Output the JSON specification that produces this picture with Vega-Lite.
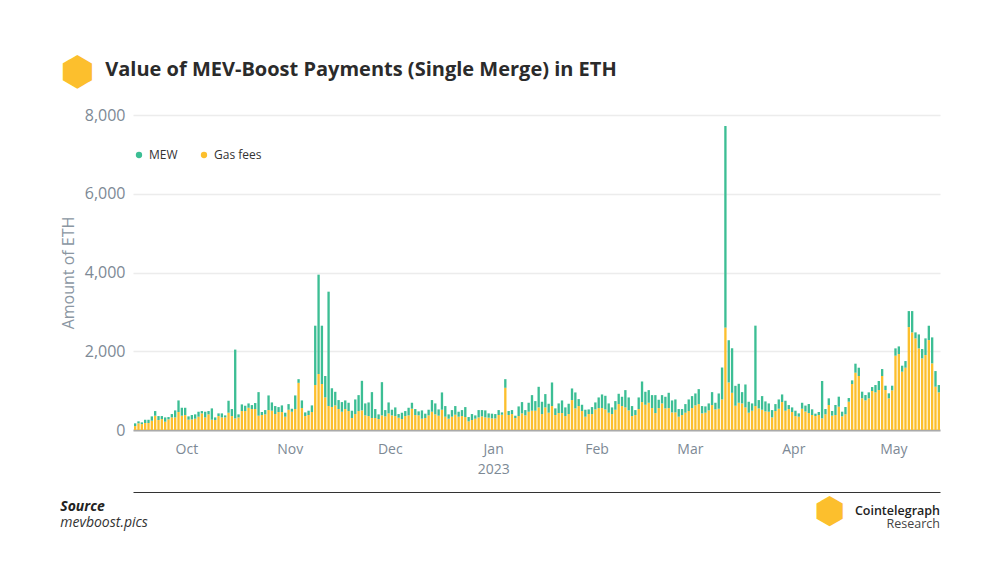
{
  "$schema": "https://vega.github.io/schema/vega-lite/v6.json",
  "padding": {"left": 60, "top": 53, "right": 60, "bottom": 40},
  "background": "white",
  "config": {
    "font": "Open Sans",
    "view": {"stroke": null},
    "concat": {"spacing": 0}
  },
  "title": {
    "text": "⬢",
    "anchor": "start",
    "frame": "bounds",
    "fontSize": 40,
    "fontWeight": "normal",
    "color": "#fcbf2d",
    "offset": -33
  },
  "vconcat": [
    {
      "title": {
        "text": "Value of MEV-Boost Payments (Single Merge) in ETH",
        "anchor": "start",
        "frame": "bounds",
        "dx": 45,
        "fontSize": 20,
        "fontWeight": "bold",
        "color": "#2b2b2b",
        "offset": 27
      },
      "vconcat": [
        {
          "title": {
            "text": "⬢",
            "orient": "bottom",
            "anchor": "end",
            "dx": -95,
            "fontSize": 36,
            "fontWeight": "normal",
            "color": "#fcbf2d",
            "offset": -35
          },
          "vconcat": [
            {
              "title": {
                "text": "Cointelegraph",
                "subtitle": "Research",
                "orient": "bottom",
                "anchor": "end",
                "fontSize": 12.5,
                "fontWeight": 600,
                "color": "#222222",
                "subtitleFontSize": 12.5,
                "subtitleColor": "#444444",
                "subtitlePadding": 0,
                "offset": -25
              },
              "vconcat": [
                {
                  "title": {
                    "text": "Source",
                    "subtitle": "mevboost.pics",
                    "orient": "bottom",
                    "anchor": "start",
                    "frame": "bounds",
                    "fontSize": 14,
                    "fontWeight": "bold",
                    "fontStyle": "italic",
                    "color": "#222222",
                    "subtitleFontSize": 14,
                    "subtitleFontStyle": "italic",
                    "subtitleColor": "#333333",
                    "subtitlePadding": 2,
                    "offset": 8
                  },
                  "width": 807,
                  "height": 315,
                  "data": {
                    "values": [
                      {"d": "2022-09-15", "Gas fees": 100, "MEW": 69},
                      {"d": "2022-09-16", "Gas fees": 170, "MEW": 50},
                      {"d": "2022-09-17", "Gas fees": 150, "MEW": 44},
                      {"d": "2022-09-18", "Gas fees": 177, "MEW": 83},
                      {"d": "2022-09-19", "Gas fees": 177, "MEW": 83},
                      {"d": "2022-09-20", "Gas fees": 236, "MEW": 110},
                      {"d": "2022-09-21", "Gas fees": 363, "MEW": 118},
                      {"d": "2022-09-22", "Gas fees": 253, "MEW": 101},
                      {"d": "2022-09-23", "Gas fees": 278, "MEW": 76},
                      {"d": "2022-09-24", "Gas fees": 211, "MEW": 109},
                      {"d": "2022-09-25", "Gas fees": 270, "MEW": 59},
                      {"d": "2022-09-26", "Gas fees": 320, "MEW": 85},
                      {"d": "2022-09-27", "Gas fees": 320, "MEW": 178},
                      {"d": "2022-09-28", "Gas fees": 456, "MEW": 295},
                      {"d": "2022-09-29", "Gas fees": 363, "MEW": 202},
                      {"d": "2022-09-30", "Gas fees": 380, "MEW": 185},
                      {"d": "2022-10-01", "Gas fees": 262, "MEW": 84},
                      {"d": "2022-10-02", "Gas fees": 270, "MEW": 110},
                      {"d": "2022-10-03", "Gas fees": 287, "MEW": 110},
                      {"d": "2022-10-04", "Gas fees": 338, "MEW": 126},
                      {"d": "2022-10-05", "Gas fees": 422, "MEW": 59},
                      {"d": "2022-10-06", "Gas fees": 320, "MEW": 144},
                      {"d": "2022-10-07", "Gas fees": 397, "MEW": 84},
                      {"d": "2022-10-08", "Gas fees": 262, "MEW": 287},
                      {"d": "2022-10-09", "Gas fees": 253, "MEW": 67},
                      {"d": "2022-10-10", "Gas fees": 354, "MEW": 68},
                      {"d": "2022-10-11", "Gas fees": 320, "MEW": 102},
                      {"d": "2022-10-12", "Gas fees": 320, "MEW": 51},
                      {"d": "2022-10-13", "Gas fees": 439, "MEW": 304},
                      {"d": "2022-10-14", "Gas fees": 354, "MEW": 178},
                      {"d": "2022-10-15", "Gas fees": 295, "MEW": 1747},
                      {"d": "2022-10-16", "Gas fees": 320, "MEW": 77},
                      {"d": "2022-10-17", "Gas fees": 481, "MEW": 169},
                      {"d": "2022-10-18", "Gas fees": 481, "MEW": 135},
                      {"d": "2022-10-19", "Gas fees": 565, "MEW": 110},
                      {"d": "2022-10-20", "Gas fees": 532, "MEW": 101},
                      {"d": "2022-10-21", "Gas fees": 532, "MEW": 152},
                      {"d": "2022-10-22", "Gas fees": 363, "MEW": 599},
                      {"d": "2022-10-23", "Gas fees": 380, "MEW": 76},
                      {"d": "2022-10-24", "Gas fees": 397, "MEW": 109},
                      {"d": "2022-10-25", "Gas fees": 506, "MEW": 372},
                      {"d": "2022-10-26", "Gas fees": 490, "MEW": 210},
                      {"d": "2022-10-27", "Gas fees": 405, "MEW": 203},
                      {"d": "2022-10-28", "Gas fees": 456, "MEW": 126},
                      {"d": "2022-10-29", "Gas fees": 456, "MEW": 169},
                      {"d": "2022-10-30", "Gas fees": 338, "MEW": 101},
                      {"d": "2022-10-31", "Gas fees": 515, "MEW": 143},
                      {"d": "2022-11-01", "Gas fees": 464, "MEW": 76},
                      {"d": "2022-11-02", "Gas fees": 532, "MEW": 346},
                      {"d": "2022-11-03", "Gas fees": 1198, "MEW": 93},
                      {"d": "2022-11-04", "Gas fees": 557, "MEW": 194},
                      {"d": "2022-11-05", "Gas fees": 354, "MEW": 93},
                      {"d": "2022-11-06", "Gas fees": 380, "MEW": 110},
                      {"d": "2022-11-07", "Gas fees": 456, "MEW": 169},
                      {"d": "2022-11-08", "Gas fees": 1143, "MEW": 1506},
                      {"d": "2022-11-09", "Gas fees": 1422, "MEW": 2523},
                      {"d": "2022-11-10", "Gas fees": 1168, "MEW": 1481},
                      {"d": "2022-11-11", "Gas fees": 830, "MEW": 541},
                      {"d": "2022-11-12", "Gas fees": 610, "MEW": 2903},
                      {"d": "2022-11-13", "Gas fees": 585, "MEW": 475},
                      {"d": "2022-11-14", "Gas fees": 625, "MEW": 345},
                      {"d": "2022-11-15", "Gas fees": 533, "MEW": 227},
                      {"d": "2022-11-16", "Gas fees": 464, "MEW": 245},
                      {"d": "2022-11-17", "Gas fees": 532, "MEW": 219},
                      {"d": "2022-11-18", "Gas fees": 481, "MEW": 211},
                      {"d": "2022-11-19", "Gas fees": 304, "MEW": 186},
                      {"d": "2022-11-20", "Gas fees": 405, "MEW": 371},
                      {"d": "2022-11-21", "Gas fees": 481, "MEW": 405},
                      {"d": "2022-11-22", "Gas fees": 498, "MEW": 751},
                      {"d": "2022-11-23", "Gas fees": 371, "MEW": 304},
                      {"d": "2022-11-24", "Gas fees": 354, "MEW": 346},
                      {"d": "2022-11-25", "Gas fees": 304, "MEW": 658},
                      {"d": "2022-11-26", "Gas fees": 304, "MEW": 228},
                      {"d": "2022-11-27", "Gas fees": 278, "MEW": 119},
                      {"d": "2022-11-28", "Gas fees": 371, "MEW": 844},
                      {"d": "2022-11-29", "Gas fees": 346, "MEW": 160},
                      {"d": "2022-11-30", "Gas fees": 422, "MEW": 278},
                      {"d": "2022-12-01", "Gas fees": 371, "MEW": 144},
                      {"d": "2022-12-02", "Gas fees": 354, "MEW": 220},
                      {"d": "2022-12-03", "Gas fees": 312, "MEW": 93},
                      {"d": "2022-12-04", "Gas fees": 278, "MEW": 161},
                      {"d": "2022-12-05", "Gas fees": 354, "MEW": 127},
                      {"d": "2022-12-06", "Gas fees": 371, "MEW": 194},
                      {"d": "2022-12-07", "Gas fees": 540, "MEW": 152},
                      {"d": "2022-12-08", "Gas fees": 380, "MEW": 152},
                      {"d": "2022-12-09", "Gas fees": 371, "MEW": 102},
                      {"d": "2022-12-10", "Gas fees": 287, "MEW": 211},
                      {"d": "2022-12-11", "Gas fees": 304, "MEW": 110},
                      {"d": "2022-12-12", "Gas fees": 371, "MEW": 144},
                      {"d": "2022-12-13", "Gas fees": 464, "MEW": 296},
                      {"d": "2022-12-14", "Gas fees": 397, "MEW": 278},
                      {"d": "2022-12-15", "Gas fees": 363, "MEW": 160},
                      {"d": "2022-12-16", "Gas fees": 515, "MEW": 439},
                      {"d": "2022-12-17", "Gas fees": 338, "MEW": 270},
                      {"d": "2022-12-18", "Gas fees": 287, "MEW": 110},
                      {"d": "2022-12-19", "Gas fees": 338, "MEW": 168},
                      {"d": "2022-12-20", "Gas fees": 388, "MEW": 220},
                      {"d": "2022-12-21", "Gas fees": 338, "MEW": 126},
                      {"d": "2022-12-22", "Gas fees": 354, "MEW": 152},
                      {"d": "2022-12-23", "Gas fees": 329, "MEW": 253},
                      {"d": "2022-12-24", "Gas fees": 219, "MEW": 110},
                      {"d": "2022-12-25", "Gas fees": 253, "MEW": 152},
                      {"d": "2022-12-26", "Gas fees": 287, "MEW": 84},
                      {"d": "2022-12-27", "Gas fees": 320, "MEW": 186},
                      {"d": "2022-12-28", "Gas fees": 346, "MEW": 160},
                      {"d": "2022-12-29", "Gas fees": 320, "MEW": 178},
                      {"d": "2022-12-30", "Gas fees": 312, "MEW": 110},
                      {"d": "2022-12-31", "Gas fees": 295, "MEW": 119},
                      {"d": "2023-01-01", "Gas fees": 295, "MEW": 110},
                      {"d": "2023-01-02", "Gas fees": 380, "MEW": 126},
                      {"d": "2023-01-03", "Gas fees": 388, "MEW": 59},
                      {"d": "2023-01-04", "Gas fees": 1072, "MEW": 219},
                      {"d": "2023-01-05", "Gas fees": 380, "MEW": 101},
                      {"d": "2023-01-06", "Gas fees": 405, "MEW": 101},
                      {"d": "2023-01-07", "Gas fees": 304, "MEW": 59},
                      {"d": "2023-01-08", "Gas fees": 354, "MEW": 245},
                      {"d": "2023-01-09", "Gas fees": 422, "MEW": 287},
                      {"d": "2023-01-10", "Gas fees": 371, "MEW": 135},
                      {"d": "2023-01-11", "Gas fees": 464, "MEW": 228},
                      {"d": "2023-01-12", "Gas fees": 490, "MEW": 396},
                      {"d": "2023-01-13", "Gas fees": 490, "MEW": 244},
                      {"d": "2023-01-14", "Gas fees": 574, "MEW": 523},
                      {"d": "2023-01-15", "Gas fees": 405, "MEW": 312},
                      {"d": "2023-01-16", "Gas fees": 574, "MEW": 338},
                      {"d": "2023-01-17", "Gas fees": 439, "MEW": 228},
                      {"d": "2023-01-18", "Gas fees": 608, "MEW": 599},
                      {"d": "2023-01-19", "Gas fees": 380, "MEW": 169},
                      {"d": "2023-01-20", "Gas fees": 430, "MEW": 245},
                      {"d": "2023-01-21", "Gas fees": 430, "MEW": 321},
                      {"d": "2023-01-22", "Gas fees": 354, "MEW": 220},
                      {"d": "2023-01-23", "Gas fees": 405, "MEW": 262},
                      {"d": "2023-01-24", "Gas fees": 760, "MEW": 295},
                      {"d": "2023-01-25", "Gas fees": 549, "MEW": 405},
                      {"d": "2023-01-26", "Gas fees": 608, "MEW": 177},
                      {"d": "2023-01-27", "Gas fees": 481, "MEW": 160},
                      {"d": "2023-01-28", "Gas fees": 338, "MEW": 177},
                      {"d": "2023-01-29", "Gas fees": 405, "MEW": 118},
                      {"d": "2023-01-30", "Gas fees": 405, "MEW": 177},
                      {"d": "2023-01-31", "Gas fees": 523, "MEW": 177},
                      {"d": "2023-02-01", "Gas fees": 557, "MEW": 270},
                      {"d": "2023-02-02", "Gas fees": 557, "MEW": 346},
                      {"d": "2023-02-03", "Gas fees": 523, "MEW": 346},
                      {"d": "2023-02-04", "Gas fees": 439, "MEW": 236},
                      {"d": "2023-02-05", "Gas fees": 405, "MEW": 169},
                      {"d": "2023-02-06", "Gas fees": 515, "MEW": 219},
                      {"d": "2023-02-07", "Gas fees": 658, "MEW": 262},
                      {"d": "2023-02-08", "Gas fees": 608, "MEW": 236},
                      {"d": "2023-02-09", "Gas fees": 574, "MEW": 439},
                      {"d": "2023-02-10", "Gas fees": 498, "MEW": 329},
                      {"d": "2023-02-11", "Gas fees": 354, "MEW": 254},
                      {"d": "2023-02-12", "Gas fees": 380, "MEW": 126},
                      {"d": "2023-02-13", "Gas fees": 532, "MEW": 295},
                      {"d": "2023-02-14", "Gas fees": 709, "MEW": 523},
                      {"d": "2023-02-15", "Gas fees": 641, "MEW": 330},
                      {"d": "2023-02-16", "Gas fees": 692, "MEW": 321},
                      {"d": "2023-02-17", "Gas fees": 557, "MEW": 329},
                      {"d": "2023-02-18", "Gas fees": 430, "MEW": 456},
                      {"d": "2023-02-19", "Gas fees": 557, "MEW": 211},
                      {"d": "2023-02-20", "Gas fees": 675, "MEW": 211},
                      {"d": "2023-02-21", "Gas fees": 549, "MEW": 295},
                      {"d": "2023-02-22", "Gas fees": 557, "MEW": 388},
                      {"d": "2023-02-23", "Gas fees": 447, "MEW": 304},
                      {"d": "2023-02-24", "Gas fees": 447, "MEW": 329},
                      {"d": "2023-02-25", "Gas fees": 338, "MEW": 194},
                      {"d": "2023-02-26", "Gas fees": 380, "MEW": 152},
                      {"d": "2023-02-27", "Gas fees": 439, "MEW": 219},
                      {"d": "2023-02-28", "Gas fees": 481, "MEW": 295},
                      {"d": "2023-03-01", "Gas fees": 557, "MEW": 304},
                      {"d": "2023-03-02", "Gas fees": 625, "MEW": 303},
                      {"d": "2023-03-03", "Gas fees": 658, "MEW": 380},
                      {"d": "2023-03-04", "Gas fees": 422, "MEW": 186},
                      {"d": "2023-03-05", "Gas fees": 439, "MEW": 160},
                      {"d": "2023-03-06", "Gas fees": 498, "MEW": 177},
                      {"d": "2023-03-07", "Gas fees": 633, "MEW": 329},
                      {"d": "2023-03-08", "Gas fees": 523, "MEW": 169},
                      {"d": "2023-03-09", "Gas fees": 540, "MEW": 388},
                      {"d": "2023-03-10", "Gas fees": 776, "MEW": 811},
                      {"d": "2023-03-11", "Gas fees": 2600, "MEW": 5120},
                      {"d": "2023-03-12", "Gas fees": 1207, "MEW": 1073},
                      {"d": "2023-03-13", "Gas fees": 945, "MEW": 1131},
                      {"d": "2023-03-14", "Gas fees": 616, "MEW": 506},
                      {"d": "2023-03-15", "Gas fees": 692, "MEW": 481},
                      {"d": "2023-03-16", "Gas fees": 675, "MEW": 287},
                      {"d": "2023-03-17", "Gas fees": 574, "MEW": 582},
                      {"d": "2023-03-18", "Gas fees": 439, "MEW": 278},
                      {"d": "2023-03-19", "Gas fees": 490, "MEW": 185},
                      {"d": "2023-03-20", "Gas fees": 608, "MEW": 2042},
                      {"d": "2023-03-21", "Gas fees": 549, "MEW": 211},
                      {"d": "2023-03-22", "Gas fees": 515, "MEW": 346},
                      {"d": "2023-03-23", "Gas fees": 473, "MEW": 253},
                      {"d": "2023-03-24", "Gas fees": 464, "MEW": 211},
                      {"d": "2023-03-25", "Gas fees": 320, "MEW": 186},
                      {"d": "2023-03-26", "Gas fees": 481, "MEW": 177},
                      {"d": "2023-03-27", "Gas fees": 540, "MEW": 236},
                      {"d": "2023-03-28", "Gas fees": 709, "MEW": 194},
                      {"d": "2023-03-29", "Gas fees": 490, "MEW": 253},
                      {"d": "2023-03-30", "Gas fees": 532, "MEW": 101},
                      {"d": "2023-03-31", "Gas fees": 456, "MEW": 118},
                      {"d": "2023-04-01", "Gas fees": 354, "MEW": 136},
                      {"d": "2023-04-02", "Gas fees": 338, "MEW": 84},
                      {"d": "2023-04-03", "Gas fees": 540, "MEW": 152},
                      {"d": "2023-04-04", "Gas fees": 470, "MEW": 150},
                      {"d": "2023-04-05", "Gas fees": 430, "MEW": 230},
                      {"d": "2023-04-06", "Gas fees": 381, "MEW": 144},
                      {"d": "2023-04-07", "Gas fees": 355, "MEW": 60},
                      {"d": "2023-04-08", "Gas fees": 381, "MEW": 76},
                      {"d": "2023-04-09", "Gas fees": 296, "MEW": 948},
                      {"d": "2023-04-10", "Gas fees": 398, "MEW": 135},
                      {"d": "2023-04-11", "Gas fees": 635, "MEW": 169},
                      {"d": "2023-04-12", "Gas fees": 364, "MEW": 118},
                      {"d": "2023-04-13", "Gas fees": 381, "MEW": 254},
                      {"d": "2023-04-14", "Gas fees": 592, "MEW": 254},
                      {"d": "2023-04-15", "Gas fees": 347, "MEW": 118},
                      {"d": "2023-04-16", "Gas fees": 398, "MEW": 186},
                      {"d": "2023-04-17", "Gas fees": 719, "MEW": 93},
                      {"d": "2023-04-18", "Gas fees": 1167, "MEW": 94},
                      {"d": "2023-04-19", "Gas fees": 1455, "MEW": 229},
                      {"d": "2023-04-20", "Gas fees": 1371, "MEW": 211},
                      {"d": "2023-04-21", "Gas fees": 804, "MEW": 169},
                      {"d": "2023-04-22", "Gas fees": 753, "MEW": 135},
                      {"d": "2023-04-23", "Gas fees": 804, "MEW": 152},
                      {"d": "2023-04-24", "Gas fees": 990, "MEW": 101},
                      {"d": "2023-04-25", "Gas fees": 956, "MEW": 186},
                      {"d": "2023-04-26", "Gas fees": 1015, "MEW": 229},
                      {"d": "2023-04-27", "Gas fees": 1371, "MEW": 177},
                      {"d": "2023-04-28", "Gas fees": 1015, "MEW": 110},
                      {"d": "2023-04-29", "Gas fees": 804, "MEW": 127},
                      {"d": "2023-04-30", "Gas fees": 1007, "MEW": 118},
                      {"d": "2023-05-01", "Gas fees": 1887, "MEW": 186},
                      {"d": "2023-05-02", "Gas fees": 1929, "MEW": 194},
                      {"d": "2023-05-03", "Gas fees": 1481, "MEW": 152},
                      {"d": "2023-05-04", "Gas fees": 1582, "MEW": 169},
                      {"d": "2023-05-05", "Gas fees": 2614, "MEW": 406},
                      {"d": "2023-05-06", "Gas fees": 2479, "MEW": 541},
                      {"d": "2023-05-07", "Gas fees": 2327, "MEW": 152},
                      {"d": "2023-05-08", "Gas fees": 2073, "MEW": 355},
                      {"d": "2023-05-09", "Gas fees": 1819, "MEW": 237},
                      {"d": "2023-05-10", "Gas fees": 1904, "MEW": 423},
                      {"d": "2023-05-11", "Gas fees": 2284, "MEW": 364},
                      {"d": "2023-05-12", "Gas fees": 1692, "MEW": 660},
                      {"d": "2023-05-13", "Gas fees": 1100, "MEW": 397},
                      {"d": "2023-05-14", "Gas fees": 956, "MEW": 186}
                    ]
                  },
                  "transform": [
                    {"fold": ["Gas fees", "MEW"], "as": ["series", "eth"]}
                  ],
                  "layer": [
                    {
                      "mark": {"type": "bar", "binSpacing": 1},
                      "encoding": {
                        "x": {
                          "field": "d",
                          "timeUnit": "utcyearmonthdate",
                          "type": "temporal",
                          "scale": {
                            "domain": [
                              {"year": 2022, "month": 9, "date": 15, "utc": true},
                              {"year": 2023, "month": 5, "date": 15, "utc": true}
                            ]
                          },
                          "axis": {
                            "orient": "bottom",
                            "title": null,
                            "grid": false,
                            "ticks": false,
                            "domainColor": "#aaaaaa",
                            "domainWidth": 2,
                            "tickCount": {"interval": "month", "step": 1},
                            "labelExpr": "utcFormat(datum.value, '%m') == '01' ? [utcFormat(datum.value, '%b'), utcFormat(datum.value, '%Y')] : utcFormat(datum.value, '%b')",
                            "labelFontSize": 14,
                            "labelColor": "#7d8995",
                            "labelPadding": 12,
                            "labelLineHeight": 20
                          }
                        },
                        "y": {
                          "field": "eth",
                          "type": "quantitative",
                          "stack": "zero",
                          "scale": {"domain": [0, 8000]},
                          "axis": {
                            "title": "Amount of ETH",
                            "titleFontSize": 16,
                            "titleFontWeight": "normal",
                            "titleColor": "#8a96a2",
                            "titlePadding": 8,
                            "values": [0, 2000, 4000, 6000, 8000],
                            "format": ",d",
                            "domain": false,
                            "ticks": false,
                            "labelFontSize": 16,
                            "labelColor": "#7d8995",
                            "labelPadding": 8,
                            "gridColor": "#ececec",
                            "gridWidth": 1.5
                          }
                        },
                        "color": {
                          "field": "series",
                          "type": "nominal",
                          "scale": {
                            "domain": ["MEW", "Gas fees"],
                            "range": ["#3cbe94", "#fcbf2d"]
                          },
                          "legend": {
                            "title": null,
                            "orient": "none",
                            "legendX": 0,
                            "legendY": 34,
                            "direction": "horizontal",
                            "symbolType": "circle",
                            "symbolSize": 40,
                            "labelFontSize": 12,
                            "labelColor": "#333333",
                            "columnPadding": 20
                          }
                        },
                        "order": {"field": "series", "sort": "ascending"}
                      }
                    },
                    {
                      "mark": {"type": "rule", "opacity": 0},
                      "encoding": {
                        "x": {
                          "field": "d",
                          "timeUnit": "utcyearmonthdate",
                          "type": "temporal",
                          "axis": {
                            "orient": "bottom",
                            "offset": 62,
                            "title": null,
                            "labels": false,
                            "ticks": false,
                            "grid": false,
                            "domainColor": "#333333",
                            "domainWidth": 1
                          }
                        }
                      }
                    }
                  ],
                  "resolve": {"axis": {"x": "independent"}}
                }
              ]
            }
          ]
        }
      ]
    }
  ]
}
